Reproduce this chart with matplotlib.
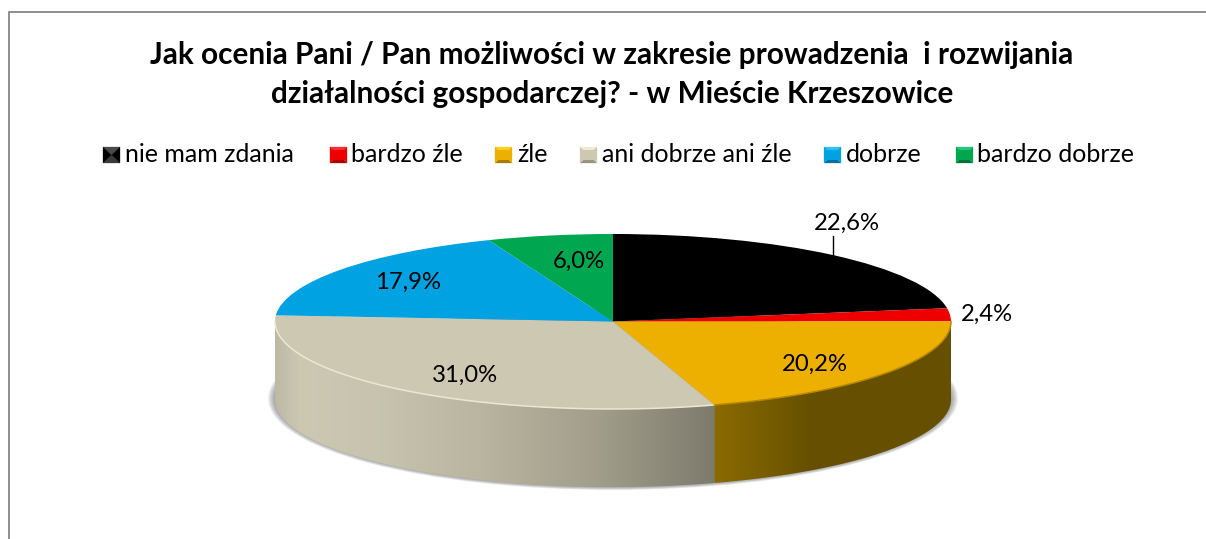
import numpy as np
import matplotlib
matplotlib.use("Agg")
import matplotlib.pyplot as plt
from matplotlib.patches import Ellipse, Polygon, Rectangle

plt.rcParams['font.family'] = ['Lato', 'DejaVu Sans']

title = "Jak ocenia Pani / Pan możliwości w zakresie prowadzenia  i rozwijania\ndziałalności gospodarczej? - w Mieście Krzeszowice"
categories = ['nie mam zdania', 'bardzo źle', 'źle', 'ani dobrze ani źle', 'dobrze', 'bardzo dobrze']
values = [22.6, 2.4, 20.2, 31.0, 17.9, 6.0]
value_labels = ['22,6%', '2,4%', '20,2%', '31,0%', '17,9%', '6,0%']
colors = ['#000000', '#ee0000', '#eeb000', '#cdc8b2', '#00a2e2', '#00a650']

# where things sit in the picture, pixels
W, H = 1206, 539
cx, cy, rx, ry, depth = 613, 321.5, 338, 87.5, 78
label_xy = [(847, 223), (987, 314), (815, 364), (465, 375), (408, 282), (579, 261)]
swatch_x = [103, 330, 495, 580, 824, 956]
text_x = [125, 351, 517, 602, 846, 977]
# colour of the side wall, from left to right
wall_stops = {
    2: ([713, 760, 810, 951], ['#8b6b00', '#7a5e00', '#665000', '#665000']),
    3: ([275, 300, 380, 480, 600, 713], ['#bcb9a5', '#cdc8b2', '#c6c3ae', '#bab5a0', '#a09d8a', '#7d7b6d']),
}
swatch_shades = [('#4a4a4a', '#000000', '#3a3a3a'), ('#ff3030', '#ee0000', '#a80000'),
                 ('#ffd020', '#eeb000', '#a87c00'), ('#ecead8', '#cdc8b2', '#98947f'),
                 ('#30c0f8', '#00a2e2', '#00709e'), ('#20c878', '#00a650', '#007238')]


def px(x, y):
    return (x - cx) / rx, (cy - y) / ry


def hex_rgb(c):
    return np.array(matplotlib.colors.to_rgb(c))


fig = plt.figure(figsize=(W / 100, H / 100), dpi=100)
ax = fig.add_axes([0, 0, 1, 1])

# pie top
ax.pie(values, colors=colors, startangle=90, counterclock=False, radius=1,
       wedgeprops={'linewidth': 0}, normalize=True)
for w in ax.patches:
    w.set_zorder(5)

d = depth / ry

# soft shadow under the pie, wider than tall so it shows mostly at the sides
for grow in np.linspace(9, 0, 10):
    ax.add_patch(Ellipse(px(cx, cy + depth - 1), 2 * (rx + grow - 2) / rx, 2 * (ry + grow * 0.45) / ry,
                         color='#555555', alpha=0.09, lw=0, zorder=1))

# side wall, only the part facing us
edges = np.cumsum([0] + values) / sum(values) * 2 * np.pi
for i in range(len(values)):
    a0, a1 = max(edges[i], np.pi / 2), min(edges[i + 1], 3 * np.pi / 2)
    if a1 <= a0 or i not in wall_stops:
        continue
    t = np.linspace(a0, a1, 240)
    xs, ys = np.sin(t), np.cos(t)
    outline = np.column_stack([np.r_[xs, xs[::-1]], np.r_[ys, ys[::-1] - d]])
    stops_x, stops_c = wall_stops[i]
    rgb = np.array([hex_rgb(c) for c in stops_c])
    grid = np.linspace(xs.min(), xs.max(), 400)
    strip = np.array([[np.interp(cx + rx * g, stops_x, rgb[:, k]) for k in range(3)] for g in grid])[None, :, :]
    clip = Polygon(outline, transform=ax.transData, facecolor='none', edgecolor='none')
    ax.add_patch(clip)
    im = ax.imshow(strip, extent=(grid[0], grid[-1], ys.min() - d, ys.max()), aspect='auto',
                   interpolation='bilinear', zorder=3)
    im.set_clip_path(clip)

# light and dark rim along the front edge
for i, col in [(3, '#ece8d0'), (2, '#b58800')]:
    t = np.linspace(max(edges[i], np.pi / 2), min(edges[i + 1], 3 * np.pi / 2), 200)
    ax.plot(np.sin(t), np.cos(t), color=col, lw=1.1, zorder=6)

# labels
for (lx, ly), s in zip(label_xy, value_labels):
    ax.text(*px(lx, ly), s, fontsize=17.2, color='black', ha='center', va='center', zorder=8)
ax.plot(*zip(px(833, 236), px(833, 255)), color='black', lw=1, zorder=7)

ax.text(*px(612, 74.5), title, fontsize=21.4, fontweight='bold', ha='center', va='center',
        linespacing=1.47, color='black', zorder=8)

# legend
for i, cat in enumerate(categories):
    x0, x1, y0, y1 = swatch_x[i], swatch_x[i] + 17, 147, 163
    c0 = (x0 + x1) / 2, (y0 + y1) / 2
    hi, mid, lo = swatch_shades[i]
    for pts, col in [([(x0, y0), (x1, y0), c0], hi), ([(x0, y1), (x1, y1), c0], lo),
                     ([(x0, y0), (x0, y1), c0], mid), ([(x1, y0), (x1, y1), c0], mid)]:
        ax.add_patch(Polygon([px(*p) for p in pts], facecolor=col, edgecolor=col, lw=0.2, zorder=7))
    if i > 0:
        ll = px(x0 + 3, y1 - 3)
        ax.add_patch(Rectangle(ll, 11 / rx, 10 / ry, facecolor=mid, lw=0, zorder=7.5))
    ax.text(*px(text_x[i], 155), cat, fontsize=18, ha='left', va='center', color='black', zorder=8)

# chart frame, runs off the picture on the right and at the bottom
ax.plot(*zip(px(8.5, H), px(8.5, 12), px(W, 12)), color='#868686', lw=1.3, zorder=2, solid_joinstyle='miter')

ax.set_aspect('auto')
ax.set_xlim(px(0, 0)[0], px(W, 0)[0])
ax.set_ylim(px(0, H)[1], px(0, 0)[1])
ax.axis('off')

fig.savefig('out.png', dpi=100, facecolor='white')
